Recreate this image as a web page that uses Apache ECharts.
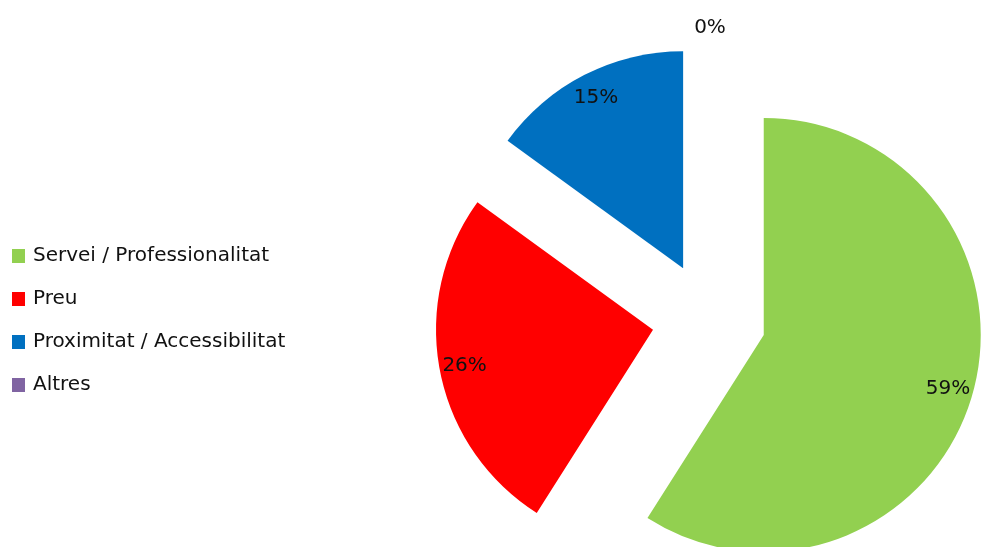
<!DOCTYPE html>
<html>
<head>
<meta charset="utf-8">
<script src="https://cdn.jsdelivr.net/npm/echarts@6/dist/echarts.min.js"></script>
<style>
html,body{margin:0;padding:0;background:#fff;}
#chart{width:987px;height:547px;}
</style>
</head>
<body>
<div id="chart"></div>
<script>
var categories = ['Servei / Professionalitat', 'Preu', 'Proximitat / Accessibilitat', 'Altres'];
var values = [59, 26, 15, 0];
var colors = ['#92D050', '#FF0000', '#0070C0', '#8064A2'];

var FONT = 'DejaVu Sans';
var center = [709, 319];
var R = 217;
var OFFSET = 57;

var visData = categories.map(function (c, i) {
  return { name: c, value: values[i], selected: true, itemStyle: { color: colors[i] } };
});
var labelData = categories.map(function (c, i) {
  var d = { name: c, value: values[i], selected: true };
  if (values[i] === 0) {
    d.label = { position: 'outside' };
  }
  return d;
});

var chart = echarts.init(document.getElementById('chart'), null, { renderer: 'canvas' });
chart.setOption({
  animation: false,
  backgroundColor: '#ffffff',
  legend: {
    orient: 'vertical',
    left: 7,
    top: 240,
    itemWidth: 13,
    itemHeight: 14,
    itemGap: 21,
    icon: 'rect',
    data: categories,
    selectedMode: false,
    textStyle: { fontFamily: FONT, fontSize: 20, color: '#111', lineHeight: 22, padding: [0, 0, 0, 3] }
  },
  series: [
    {
      type: 'pie',
      center: center,
      radius: [0, R],
      startAngle: 90,
      clockwise: true,
      selectedMode: 'multiple',
      selectedOffset: OFFSET,
      avoidLabelOverlap: false,
      stillShowZeroSum: true,
      label: { show: false },
      labelLine: { show: false },
      emphasis: { disabled: true },
      itemStyle: { borderWidth: 0 },
      data: visData
    },
    {
      type: 'pie',
      silent: true,
      center: center,
      radius: [R * 0.72, R * 1.02],
      startAngle: 90,
      clockwise: true,
      selectedMode: 'multiple',
      selectedOffset: OFFSET,
      avoidLabelOverlap: false,
      itemStyle: { color: 'rgba(0,0,0,0)', borderWidth: 0 },
      emphasis: { disabled: true },
      label: {
        show: true,
        position: 'inside',
        formatter: function (p) { return p.value + '%'; },
        fontFamily: FONT,
        fontSize: 20,
        color: '#111'
      },
      labelLine: { show: false, length: 13, length2: 0 },
      labelLayout: function (p) {
        if (p.dataIndex === 3) { return { align: 'center', dx: 6 }; }
        return {};
      },
      data: labelData
    }
  ]
});
</script>
</body>
</html>
